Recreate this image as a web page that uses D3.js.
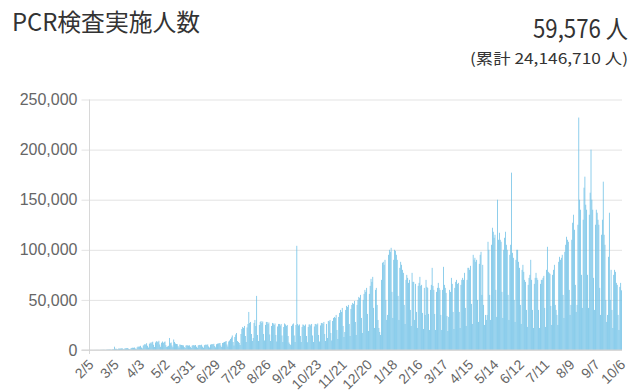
<!DOCTYPE html>
<html><head><meta charset="utf-8">
<script src="https://cdn.jsdelivr.net/npm/d3@7"></script>
<style>
html,body{margin:0;padding:0;background:#fff;}
svg{display:block;}
</style></head>
<body>
<svg id="chart" width="640" height="392"></svg>
<script>
// ---- data ----
const startDate = "2020-02-05";
const tickLabels = ["2/5","3/5","4/3","5/2","5/31","6/29","7/28","8/26","9/24","10/23","11/21","12/20","1/18","2/16","3/17","4/15","5/14","6/12","7/11","8/9","9/7","10/6"];
const yTicks = [0, 50000, 100000, 150000, 200000, 250000];
const latestCount = 59576;
const totalCount = 24146710;
// daily PCR tests, weeks starting Wednesday
const pcrTests = [
45,36,38,29,25,52,60,
70,80,95,60,40,120,150,
180,200,260,150,110,300,350,
400,460,520,380,250,600,700,
3300,1200,1300,900,600,1500,1400,
1500,1600,1700,1100,700,1600,1700,
1800,1900,1400,900,600,1700,2100,
2300,2200,2500,1500,900,2600,3400,
3300,3500,4200,2500,1600,4500,5200,
6000,5400,6800,4200,2500,6200,7400,
6500,7800,8300,5200,3000,7500,8800,
8400,7800,9200,5500,3200,7300,8500,
7000,8000,8500,4800,3000,3500,4200,
12000,6800,7500,4500,2800,10500,8000,
6500,6000,5800,3800,2400,5500,5200,
5000,4800,4600,3000,2000,4500,4800,
4600,4400,4700,3200,2100,4300,4900,
4800,4500,5000,3300,2200,4600,5000,
5100,4800,5300,3400,2300,4800,5200,
5400,5100,5600,3600,2500,5300,5700,
5900,5600,6200,4000,2700,5800,6300,
6500,6800,7000,4500,3000,7000,7500,
8000,8400,9000,5500,3500,8500,9500,
11000,12500,14500,8000,4500,13000,15500,
17000,9000,8000,7000,5000,16000,21000,
23000,22000,24000,14000,8000,22500,26000,
38000,27000,28000,16000,9000,12000,27000,
30000,24000,54000,15000,9000,25000,28000,
29000,27000,28500,16000,9500,25000,28000,
28000,26000,27500,15500,9000,24000,27000,
26500,25000,26500,15000,8500,23500,26000,
26000,24500,26000,14500,8000,23000,26500,
25500,24000,25000,14000,7500,6000,5000,
24000,25500,26500,14500,8000,25000,104000,
26000,24500,25500,14000,8000,23000,25500,
25000,24000,25500,14000,7800,23000,25500,
25500,24500,26000,14500,8000,23500,26000,
26000,25000,26500,15000,8500,24500,27000,
27000,26000,28000,16000,9000,26000,12000,
29000,28500,30000,17000,9500,29000,32000,
33000,32000,35000,20000,11000,33000,37000,
40000,38000,42000,24000,13000,18000,40000,
44000,43000,45000,26000,14000,41000,45000,
47000,46000,49000,28000,15000,45000,50000,
53000,52000,55000,32000,17000,50000,56000,
60000,58000,62000,36000,19000,56000,64000,
71000,68000,73000,42000,22000,60000,62000,
45000,30000,22000,18000,15000,70000,87000,
88000,85000,90000,50000,30000,35000,95000,
100000,98000,102000,58000,32000,90000,100000,
99000,95000,90000,54000,30000,82000,88000,
85000,80000,77000,45000,26000,70000,75000,
72000,67000,70000,40000,24000,77000,68000,
68000,30000,66000,38000,22000,64000,67000,
73000,64000,65000,37000,21000,62000,35000,
70000,63000,62000,36000,20000,60000,65000,
82000,64000,60000,36000,20000,58000,62000,
67000,62000,60000,35000,20000,60000,83000,
65000,62000,57000,34000,19000,33000,60000,
58000,72000,66000,38000,21000,62000,68000,
70000,66000,67000,38000,22000,65000,70000,
72000,70000,77000,42000,24000,70000,82000,
82000,80000,84000,46000,26000,95000,90000,
92000,88000,90000,50000,28000,86000,95000,
98000,55000,85000,45000,25000,35000,30000,
35000,108000,100000,55000,30000,105000,122000,
118000,112000,115000,60000,33000,150000,110000,
117000,110000,108000,58000,32000,100000,112000,
118000,105000,100000,55000,30000,95000,105000,
177000,97000,92000,50000,28000,90000,100000,
100000,88000,82000,45000,26000,80000,85000,
78000,70000,68000,40000,23000,65000,72000,
75000,90000,70000,40000,22000,66000,72000,
77000,72000,70000,40000,22000,66000,70000,
70000,72000,74000,42000,23000,80000,103000,
78000,77000,76000,44000,25000,75000,80000,
85000,45000,40000,35000,25000,88000,93000,
90000,92000,95000,55000,32000,98000,105000,
113000,110000,108000,60000,35000,45000,110000,
127000,135000,120000,65000,38000,45000,125000,
232000,150000,140000,75000,42000,130000,162000,
173000,145000,140000,75000,42000,135000,157000,
200000,150000,140000,72000,40000,125000,140000,
137000,130000,125000,62000,35000,115000,130000,
168000,115000,105000,50000,28000,35000,93000,
137000,50000,80000,40000,22000,75000,80000,
78000,67000,65000,35000,20000,63000,67000,
59576
];

// ---- chart ----
const svg = d3.select("#chart");
const plotL = 89.5, plotR = 622, plotT = 99.5, plotB = 350;
const fmtMD = d3.timeFormat("%-m/%-d");
const start = d3.timeParse("%Y-%m-%d")(startDate);
const categories = pcrTests.map((v, i) => fmtMD(d3.timeDay.offset(start, i)) + "#" + i);
const labelStep = Math.round((pcrTests.length - 1) / (tickLabels.length - 1));

const x = d3.scaleBand().domain(categories).range([plotL, plotR]).paddingInner(0.12).paddingOuter(0.06);
const y = d3.scaleLinear().domain([0, 250000]).range([plotB, plotT]);

// gridlines
svg.append("g").attr("transform", `translate(${plotL},0)`)
  .call(d3.axisLeft(y).tickValues(yTicks).tickSize(-(plotR - plotL)).tickFormat(""))
  .call(g => g.select(".domain").remove())
  .call(g => g.selectAll("line").attr("stroke", "#e3e3e3").attr("stroke-width", 1));

// y axis with labels and short ticks
svg.append("g").attr("transform", `translate(${plotL},0)`)
  .call(d3.axisLeft(y).tickValues(yTicks).tickSize(8).tickPadding(4).tickFormat(d3.format(",")))
  .call(g => g.select(".domain").remove())
  .call(g => g.selectAll("line").attr("stroke", "#e3e3e3"))
  .call(g => g.selectAll("text").attr("fill", "#666").attr("font-size", "16px")
     .attr("font-family", "'Liberation Sans', Arial, sans-serif"));

// vertical axis line
svg.append("line").attr("x1", plotL).attr("x2", plotL).attr("y1", plotT).attr("y2", plotB + 4)
  .attr("stroke", "#d8d8d8");

// bars
svg.append("g").selectAll("rect").data(pcrTests).join("rect")
  .attr("x", (d, i) => x(categories[i]))
  .attr("width", x.bandwidth())
  .attr("y", d => y(d))
  .attr("height", d => plotB - y(d))
  .attr("fill", "#6ec0e6");

// baseline
svg.append("line").attr("x1", plotL - 8).attr("x2", plotR).attr("y1", plotB).attr("y2", plotB)
  .attr("stroke", "#d0d0d0");

// x axis labels
const xAxis = d3.axisBottom(x)
  .tickValues(tickLabels.map((l, k) => categories[k * labelStep]))
  .tickFormat((d, k) => tickLabels[k]).tickSize(0);
svg.append("g").attr("transform", `translate(0,${plotB})`).call(xAxis)
  .call(g => g.select(".domain").remove())
  .call(g => g.selectAll("text")
     .attr("fill", "#666").attr("font-size", "14px")
     .attr("font-family", "'Liberation Sans', Arial, sans-serif")
     .attr("text-anchor", "end").attr("dy", "0.35em").attr("y", 0)
     .attr("transform", "translate(1,12) rotate(-45)"));

// header texts
svg.append("text").attr("x", 12).attr("y", 31)
  .attr("font-family", "'Noto Sans CJK JP', sans-serif").attr("font-size", "24px")
  .attr("fill", "#333").attr("textLength", 188).attr("lengthAdjust", "spacingAndGlyphs")
  .text("PCR検査実施人数");
svg.append("text").attr("x", 628).attr("y", 38).attr("text-anchor", "end")
  .attr("font-family", "'Noto Sans CJK JP', sans-serif").attr("font-size", "25px")
  .attr("fill", "#333").attr("textLength", 95).attr("lengthAdjust", "spacingAndGlyphs")
  .text(d3.format(",")(latestCount) + " 人");
svg.append("text").attr("x", 628).attr("y", 64).attr("text-anchor", "end")
  .attr("font-family", "'Noto Sans CJK JP', sans-serif").attr("font-size", "15px")
  .attr("fill", "#333").attr("textLength", 158).attr("lengthAdjust", "spacingAndGlyphs")
  .text("(累計 " + d3.format(",")(totalCount) + " 人)");
</script>
</body></html>
